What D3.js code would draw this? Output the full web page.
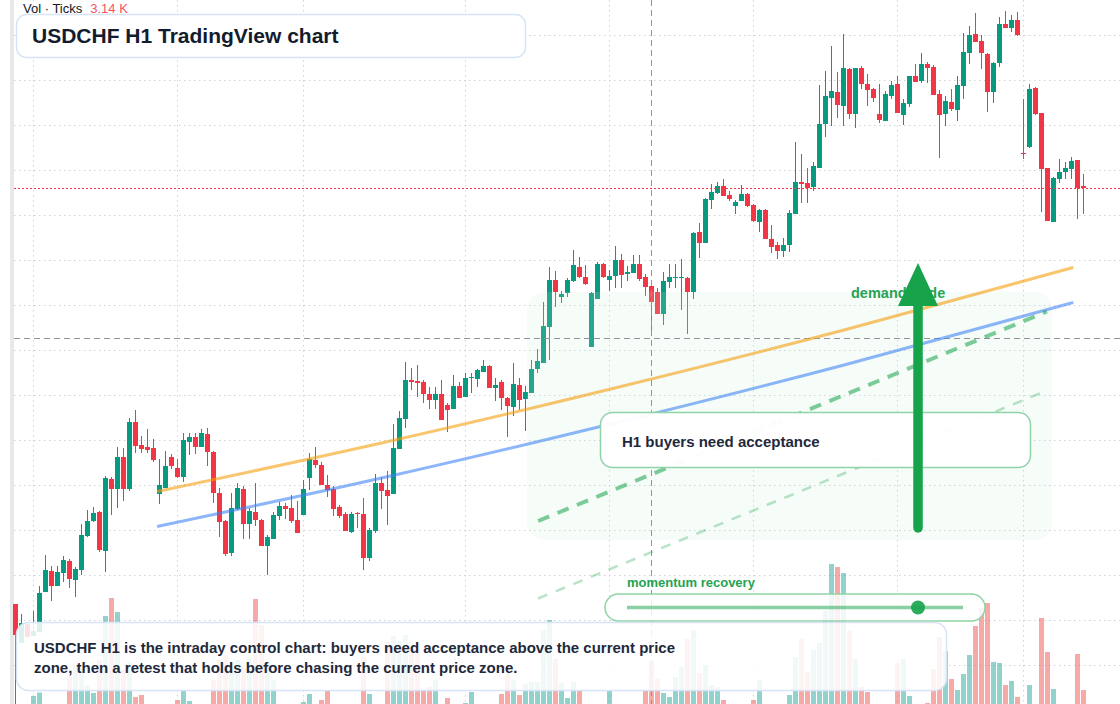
<!DOCTYPE html>
<html>
<head>
<meta charset="utf-8">
<script src="https://cdn.jsdelivr.net/npm/d3@7"></script>
<style>
  html, body { margin: 0; padding: 0; background: #ffffff; overflow: hidden; }
  svg { display: block; font-family: "Liberation Sans", Arial, sans-serif; }
</style>
</head>
<body>
<div id="chart"></div>
<script>
// USDCHF H1 candles (oldest first)
const open = [0.79762,0.79684,0.79722,0.79698,0.79706,0.79786,0.79828,0.79798,0.79824,0.79848,
0.79810,0.79830,0.79898,0.79928,0.79946,0.79868,0.80012,0.79992,0.80056,0.79992,
0.80126,0.80080,0.80076,0.80074,0.79982,0.79994,0.80056,0.80034,0.80016,0.80086,
0.80096,0.80076,0.80102,0.80066,0.79984,0.79928,0.79864,0.79952,0.79992,0.79922,
0.79946,0.79930,0.79878,0.79892,0.79938,0.79958,0.79954,0.79930,0.79940,0.80014,
0.80050,0.80040,0.80000,0.79992,0.79956,0.79942,0.79906,0.79944,0.79942,0.79854,
0.79908,0.80004,0.79990,0.79982,0.80072,0.80132,0.80210,0.80208,0.80206,0.80182,
0.80170,0.80182,0.80160,0.80152,0.80198,0.80176,0.80214,0.80212,0.80226,0.80238,
0.80194,0.80206,0.80174,0.80156,0.80200,0.80172,0.80184,0.80232,0.80244,0.80316,
0.80410,0.80376,0.80384,0.80408,0.80436,0.80416,0.80276,0.80372,0.80442,0.80410,
0.80418,0.80450,0.80422,0.80424,0.80442,0.80416,0.80398,0.80386,0.80342,0.80406,
0.80414,0.80414,0.80414,0.80386,0.80506,0.80484,0.80570,0.80584,0.80598,0.80580,
0.80558,0.80568,0.80582,0.80560,0.80526,0.80550,0.80492,0.80480,0.80468,0.80480,
0.80542,0.80606,0.80604,0.80596,0.80634,0.80722,0.80774,0.80786,0.80758,0.80832,
0.80742,0.80834,0.80802,0.80792,0.80742,0.80728,0.80778,0.80802,0.80740,0.80762,
0.80818,0.80808,0.80842,0.80836,0.80782,0.80742,0.80766,0.80750,0.80798,0.80864,
0.80902,0.80888,0.80862,0.80786,0.80844,0.80922,0.80914,0.80930,0.80664,0.80676,
0.80794,0.80744,0.80634,0.80526,0.80612,0.80626,0.80632,0.80650,0.80598];

const high = [0.79762,0.79742,0.79722,0.79748,0.79798,0.79860,0.79838,0.79838,0.79858,0.79852,
0.79836,0.79922,0.79950,0.79956,0.79948,0.80018,0.80016,0.80076,0.80074,0.80134,
0.80150,0.80098,0.80112,0.80092,0.80052,0.80068,0.80062,0.80052,0.80104,0.80104,
0.80104,0.80112,0.80114,0.80068,0.79994,0.79930,0.79984,0.80004,0.79998,0.79954,
0.80004,0.79932,0.79900,0.79946,0.79966,0.79964,0.79980,0.79968,0.80010,0.80064,
0.80076,0.80046,0.80020,0.79998,0.79960,0.79946,0.79946,0.79946,0.79974,0.79914,
0.80022,0.80016,0.80028,0.80122,0.80148,0.80246,0.80234,0.80240,0.80210,0.80196,
0.80196,0.80210,0.80164,0.80220,0.80206,0.80224,0.80224,0.80232,0.80250,0.80240,
0.80214,0.80210,0.80176,0.80244,0.80214,0.80198,0.80250,0.80272,0.80366,0.80436,
0.80428,0.80388,0.80414,0.80470,0.80456,0.80440,0.80386,0.80446,0.80444,0.80430,
0.80478,0.80462,0.80438,0.80460,0.80460,0.80422,0.80408,0.80394,0.80426,0.80442,
0.80442,0.80452,0.80416,0.80506,0.80524,0.80574,0.80602,0.80606,0.80612,0.80588,
0.80570,0.80600,0.80584,0.80562,0.80552,0.80552,0.80520,0.80486,0.80494,0.80550,
0.80686,0.80662,0.80634,0.80646,0.80800,0.80828,0.80878,0.80826,0.80902,0.80834,
0.80834,0.80838,0.80822,0.80794,0.80802,0.80788,0.80808,0.80818,0.80772,0.80818,
0.80842,0.80864,0.80846,0.80840,0.80790,0.80778,0.80792,0.80818,0.80904,0.80918,
0.80944,0.80900,0.80864,0.80846,0.80936,0.80948,0.80940,0.80946,0.80772,0.80802,
0.80796,0.80744,0.80634,0.80616,0.80652,0.80646,0.80656,0.80650,0.80622];

const low = [0.79558,0.79684,0.79696,0.79698,0.79706,0.79786,0.79768,0.79798,0.79806,0.79794,
0.79776,0.79820,0.79896,0.79926,0.79866,0.79826,0.79940,0.79954,0.79968,0.79988,
0.80064,0.80064,0.80064,0.80046,0.79962,0.79994,0.80032,0.80014,0.80006,0.80060,
0.80062,0.80076,0.80038,0.79964,0.79896,0.79858,0.79858,0.79950,0.79892,0.79892,
0.79918,0.79878,0.79820,0.79892,0.79930,0.79932,0.79924,0.79904,0.79940,0.79990,
0.80034,0.80000,0.79976,0.79938,0.79934,0.79908,0.79904,0.79914,0.79830,0.79848,
0.79904,0.79952,0.79920,0.79982,0.80072,0.80114,0.80190,0.80176,0.80164,0.80152,
0.80152,0.80130,0.80106,0.80152,0.80174,0.80176,0.80184,0.80196,0.80226,0.80194,
0.80168,0.80150,0.80096,0.80138,0.80150,0.80108,0.80184,0.80224,0.80244,0.80250,
0.80356,0.80364,0.80376,0.80406,0.80414,0.80400,0.80276,0.80372,0.80414,0.80388,
0.80394,0.80394,0.80408,0.80424,0.80408,0.80378,0.80304,0.80342,0.80320,0.80394,
0.80394,0.80350,0.80302,0.80372,0.80454,0.80484,0.80552,0.80582,0.80578,0.80568,
0.80542,0.80568,0.80556,0.80526,0.80506,0.80492,0.80464,0.80452,0.80456,0.80466,
0.80542,0.80564,0.80564,0.80588,0.80634,0.80696,0.80718,0.80734,0.80718,0.80732,
0.80714,0.80792,0.80758,0.80766,0.80724,0.80728,0.80772,0.80744,0.80720,0.80756,
0.80806,0.80804,0.80804,0.80780,0.80654,0.80718,0.80748,0.80728,0.80772,0.80842,
0.80886,0.80832,0.80746,0.80764,0.80836,0.80914,0.80906,0.80898,0.80652,0.80674,
0.80740,0.80546,0.80528,0.80526,0.80604,0.80612,0.80612,0.80532,0.80542];

const close = [0.79700,0.79724,0.79696,0.79708,0.79784,0.79830,0.79798,0.79826,0.79850,0.79812,
0.79832,0.79900,0.79928,0.79944,0.79870,0.80014,0.79992,0.80056,0.79992,0.80126,
0.80078,0.80072,0.80070,0.80050,0.80000,0.80038,0.80038,0.80016,0.80090,0.80096,
0.80076,0.80104,0.80066,0.79984,0.79926,0.79862,0.79954,0.79994,0.79922,0.79948,
0.79930,0.79878,0.79896,0.79940,0.79958,0.79952,0.79928,0.79904,0.79992,0.80052,
0.80040,0.80000,0.79990,0.79952,0.79938,0.79908,0.79942,0.79942,0.79854,0.79910,
0.80004,0.79988,0.79978,0.80074,0.80134,0.80210,0.80206,0.80204,0.80182,0.80170,
0.80182,0.80130,0.80150,0.80198,0.80174,0.80214,0.80216,0.80230,0.80238,0.80194,
0.80200,0.80174,0.80158,0.80202,0.80170,0.80186,0.80232,0.80248,0.80318,0.80410,
0.80386,0.80382,0.80410,0.80440,0.80416,0.80402,0.80384,0.80442,0.80416,0.80418,
0.80450,0.80420,0.80426,0.80442,0.80412,0.80396,0.80366,0.80342,0.80408,0.80416,
0.80416,0.80416,0.80386,0.80504,0.80484,0.80572,0.80586,0.80598,0.80578,0.80572,
0.80566,0.80582,0.80558,0.80528,0.80550,0.80492,0.80476,0.80468,0.80480,0.80544,
0.80606,0.80602,0.80594,0.80638,0.80722,0.80778,0.80788,0.80760,0.80834,0.80742,
0.80834,0.80802,0.80790,0.80774,0.80730,0.80782,0.80800,0.80744,0.80764,0.80818,
0.80806,0.80842,0.80834,0.80780,0.80740,0.80768,0.80752,0.80800,0.80866,0.80900,
0.80886,0.80864,0.80786,0.80844,0.80922,0.80914,0.80930,0.80900,0.80662,0.80792,
0.80742,0.80632,0.80528,0.80614,0.80626,0.80634,0.80648,0.80594,0.80594];

// tick volume per candle
const volume = [0,0,0,160,230,0,0,0,0,540,
740,720,380,220,880,1760,2120,1840,680,840,
140,180,0,0,0,0,0,80,280,60,
0,0,0,480,880,980,840,880,720,920,
2100,1580,840,480,0,0,0,0,40,200,
0,80,280,0,0,0,0,0,940,200,
0,0,1240,1360,1260,1380,1120,1020,280,340,
480,0,120,0,0,20,240,0,0,0,
0,200,620,480,180,400,440,440,1480,1680,
900,420,120,440,280,0,0,0,0,280,
0,0,0,0,0,280,860,500,220,140,
540,740,1300,1480,620,780,380,340,80,0,
0,0,0,80,480,0,0,0,0,180,
940,1300,640,1080,1220,1860,2800,2740,2620,1460,
900,340,240,0,0,0,0,820,900,160,
0,0,20,700,1340,1060,500,280,600,980,
1560,1920,2020,840,820,380,460,140,0,380,
0,1720,1040,300,0,0,0,1000,280];

// horizontal grid prices and candle indexes where a new session starts
const gridPrices = [0.80900,0.80810,0.80720,0.80630,0.80540,0.80450,0.80360,0.80270,
  0.80180,0.80090,0.80000,0.79910,0.79820,0.79730,0.79640];
const sessionStarts = [3, 27, 48, 75, 99, 123, 147, 168];

// drawn trend lines as [candle index, price]
const upperTrend = [[23.6,0.79987],[61.75,0.80086],[99.9,0.80194],[138.1,0.80310],[176.3,0.80435]];
const lowerTrend = [[23.6,0.79917],[61.75,0.80016],[99.9,0.80124],[138.1,0.80240],[176.3,0.80365]];
const channelMid = [[87.1,0.79928],[171.9,0.80347]];
const channelLow = [[87.1,0.79773],[172.1,0.80190]];

const crossIdx = 106, crossPrice = 0.80294;
const zone = {i0: 85.25, i1: 172.75, top: 0.80386, bottom: 0.79890};
const arrowIdx = 150.42, arrowFrom = 0.79914, arrowTo = 0.80444;

const volLabel = "3.14 K";
const title = "USDCHF H1 TradingView chart";
const zoneLabel = "demand node";
const noteLines = [
  "USDCHF H1 is the intraday control chart: buyers need acceptance above the current price",
  "zone, then a retest that holds before chasing the current price zone."
];

const width = 1120, height = 704;
const upColor = "#089981", downColor = "#f23645";
const green = "#16a34a";

const x = d3.scaleLinear().domain([0, open.length - 1]).range([15.5, 1083.5]);
const y = d3.scaleLinear().domain([0.80970, 0.79562]).range([0, height]);
const yVol = d3.scaleLinear().domain([0, 3520]).range([height, 528]);

const candles = d3.range(open.length).map(i => ({
  i, o: open[i], h: high[i], l: low[i], c: close[i], v: volume[i]
}));

const svg = d3.select("#chart").append("svg")
  .attr("width", width)
  .attr("height", height);

svg.append("rect").attr("width", width).attr("height", height).attr("fill", "#ffffff");
svg.append("rect").attr("x", 10).attr("y", 0).attr("width", 4).attr("height", height).attr("fill", "#e8e8ea");

// grid
const grid = svg.append("g")
  .attr("stroke", "#cfd2d8")
  .attr("stroke-width", 1)
  .attr("stroke-dasharray", "1.5,3.5");

grid.selectAll(".h").data(gridPrices).join("line")
  .attr("x1", 14).attr("x2", width)
  .attr("y1", d => Math.round(y(d)) + 0.5)
  .attr("y2", d => Math.round(y(d)) + 0.5);

grid.selectAll(".v").data(sessionStarts).join("line")
  .attr("x1", d => x(d)).attr("x2", d => x(d))
  .attr("y1", 0).attr("y2", height);

// volume
svg.append("g").selectAll("rect")
  .data(candles.filter(d => d.v > 0))
  .join("rect")
  .attr("x", d => x(d.i) - 2.5)
  .attr("width", 5)
  .attr("y", d => yVol(d.v))
  .attr("height", d => height - yVol(d.v))
  .attr("fill", d => d.c >= d.o ? "#26a69a" : "#ef5350")
  .attr("opacity", 0.5);

// candles
const cg = svg.append("g");
cg.selectAll("line")
  .data(candles)
  .join("line")
  .attr("x1", d => x(d.i)).attr("x2", d => x(d.i))
  .attr("y1", d => y(d.h)).attr("y2", d => y(d.l))
  .attr("stroke", d => d.c >= d.o ? upColor : downColor)
  .attr("stroke-width", 1);

cg.selectAll("rect")
  .data(candles)
  .join("rect")
  .attr("x", d => x(d.i) - 2.5)
  .attr("width", 5)
  .attr("y", d => y(Math.max(d.o, d.c)))
  .attr("height", d => Math.max(1, Math.abs(y(d.o) - y(d.c))))
  .attr("fill", d => d.c >= d.o ? upColor : downColor);

// demand zone
svg.append("rect")
  .attr("x", x(zone.i0)).attr("y", y(zone.top))
  .attr("width", x(zone.i1) - x(zone.i0))
  .attr("height", y(zone.bottom) - y(zone.top))
  .attr("rx", 18)
  .attr("fill", "#c9ecd3")
  .attr("opacity", 0.16);

// crosshair
svg.append("line")
  .attr("x1", x(crossIdx)).attr("x2", x(crossIdx))
  .attr("y1", 0).attr("y2", height)
  .attr("stroke", "#8f939c").attr("stroke-dasharray", "6,4");
svg.append("line")
  .attr("x1", 14).attr("x2", width)
  .attr("y1", Math.round(y(crossPrice)) + 0.5).attr("y2", Math.round(y(crossPrice)) + 0.5)
  .attr("stroke", "#8f939c").attr("stroke-dasharray", "6,4");

// trend lines
const line = d3.line()
  .x(d => x(d[0]))
  .y(d => y(d[1]))
  .curve(d3.curveMonotoneX);

svg.append("path").attr("d", line(upperTrend))
  .attr("fill", "none").attr("stroke", "#f59e0b").attr("stroke-width", 3).attr("opacity", 0.6);
svg.append("path").attr("d", line(lowerTrend))
  .attr("fill", "none").attr("stroke", "#3b82f6").attr("stroke-width", 3).attr("opacity", 0.58);
svg.append("path").attr("d", line(channelLow))
  .attr("fill", "none").attr("stroke", green).attr("stroke-width", 2.5)
  .attr("stroke-dasharray", "10,9").attr("opacity", 0.3);
svg.append("path").attr("d", line(channelMid))
  .attr("fill", "none").attr("stroke", green).attr("stroke-width", 4)
  .attr("stroke-dasharray", "12,9").attr("opacity", 0.55);

// last price line
const lastClose = close[close.length - 1];
svg.append("line")
  .attr("x1", 14).attr("x2", width)
  .attr("y1", Math.round(y(lastClose)) + 0.5).attr("y2", Math.round(y(lastClose)) + 0.5)
  .attr("stroke", downColor).attr("stroke-dasharray", "2,2");

// callout
svg.append("rect")
  .attr("x", 600.5).attr("y", 412.5).attr("width", 430).attr("height", 55).attr("rx", 12)
  .attr("fill", "#ffffff").attr("fill-opacity", 0.96)
  .attr("stroke", "#8fd3a6").attr("stroke-width", 1.5);
svg.append("text")
  .attr("x", 622).attr("y", 447)
  .attr("font-size", 15).attr("font-weight", "bold").attr("fill", "#1e293b")
  .text("H1 buyers need acceptance");

svg.append("text")
  .attr("x", 851).attr("y", 298)
  .attr("font-size", 14.5).attr("font-weight", "bold").attr("fill", "#25a352")
  .text(zoneLabel);

// arrow
const ax = x(arrowIdx);
const headTop = y(arrowTo), headBase = headTop + 43;
svg.append("line")
  .attr("x1", ax).attr("x2", ax)
  .attr("y1", y(arrowFrom)).attr("y2", headBase)
  .attr("stroke", green).attr("stroke-width", 9.5).attr("stroke-linecap", "round");
svg.append("path")
  .attr("d", `M${ax},${headTop} L${ax + 20},${headBase} L${ax - 20},${headBase} Z`)
  .attr("fill", green);

// momentum slider
svg.append("text")
  .attr("x", 627).attr("y", 587)
  .attr("font-size", 13).attr("font-weight", "bold").attr("fill", "#25a352")
  .text("momentum recovery");
svg.append("rect")
  .attr("x", 605).attr("y", 594).attr("width", 380).attr("height", 27).attr("rx", 13.5)
  .attr("fill", "#ffffff").attr("fill-opacity", 0.84)
  .attr("stroke", "#8fd3a6").attr("stroke-width", 1.5);
svg.append("line")
  .attr("x1", 627).attr("x2", 963).attr("y1", 607.5).attr("y2", 607.5)
  .attr("stroke", green).attr("stroke-width", 3.5).attr("opacity", 0.5);
svg.append("circle")
  .attr("cx", ax).attr("cy", 607.5).attr("r", 7)
  .attr("fill", green).attr("opacity", 0.9);

// bottom note
svg.append("rect")
  .attr("x", 16.5).attr("y", 622.5).attr("width", 930).attr("height", 68).attr("rx", 12)
  .attr("fill", "#ffffff").attr("fill-opacity", 0.86)
  .attr("stroke", "#d6e4f6").attr("stroke-width", 1.5);
svg.append("g").selectAll("text")
  .data(noteLines)
  .join("text")
  .attr("x", 34).attr("y", (d, i) => 653 + i * 20)
  .attr("font-size", 15).attr("font-weight", "bold").attr("fill", "#1e293b")
  .text(d => d);

// title
svg.append("rect")
  .attr("x", 16.5).attr("y", 14.5).attr("width", 509).attr("height", 43).attr("rx", 10)
  .attr("fill", "#ffffff").attr("fill-opacity", 0.96)
  .attr("stroke", "#d6e4f6").attr("stroke-width", 1.5);
svg.append("text")
  .attr("x", 32).attr("y", 43)
  .attr("font-size", 21).attr("font-weight", "bold").attr("fill", "#131c2e")
  .text(title);

const vol = svg.append("text").attr("x", 23).attr("y", 13).attr("font-size", 13);
vol.append("tspan").attr("fill", "#131722").text("Vol · Ticks");
vol.append("tspan").attr("dx", 8).attr("fill", "#f7525f").text(volLabel);
</script>
</body>
</html>
